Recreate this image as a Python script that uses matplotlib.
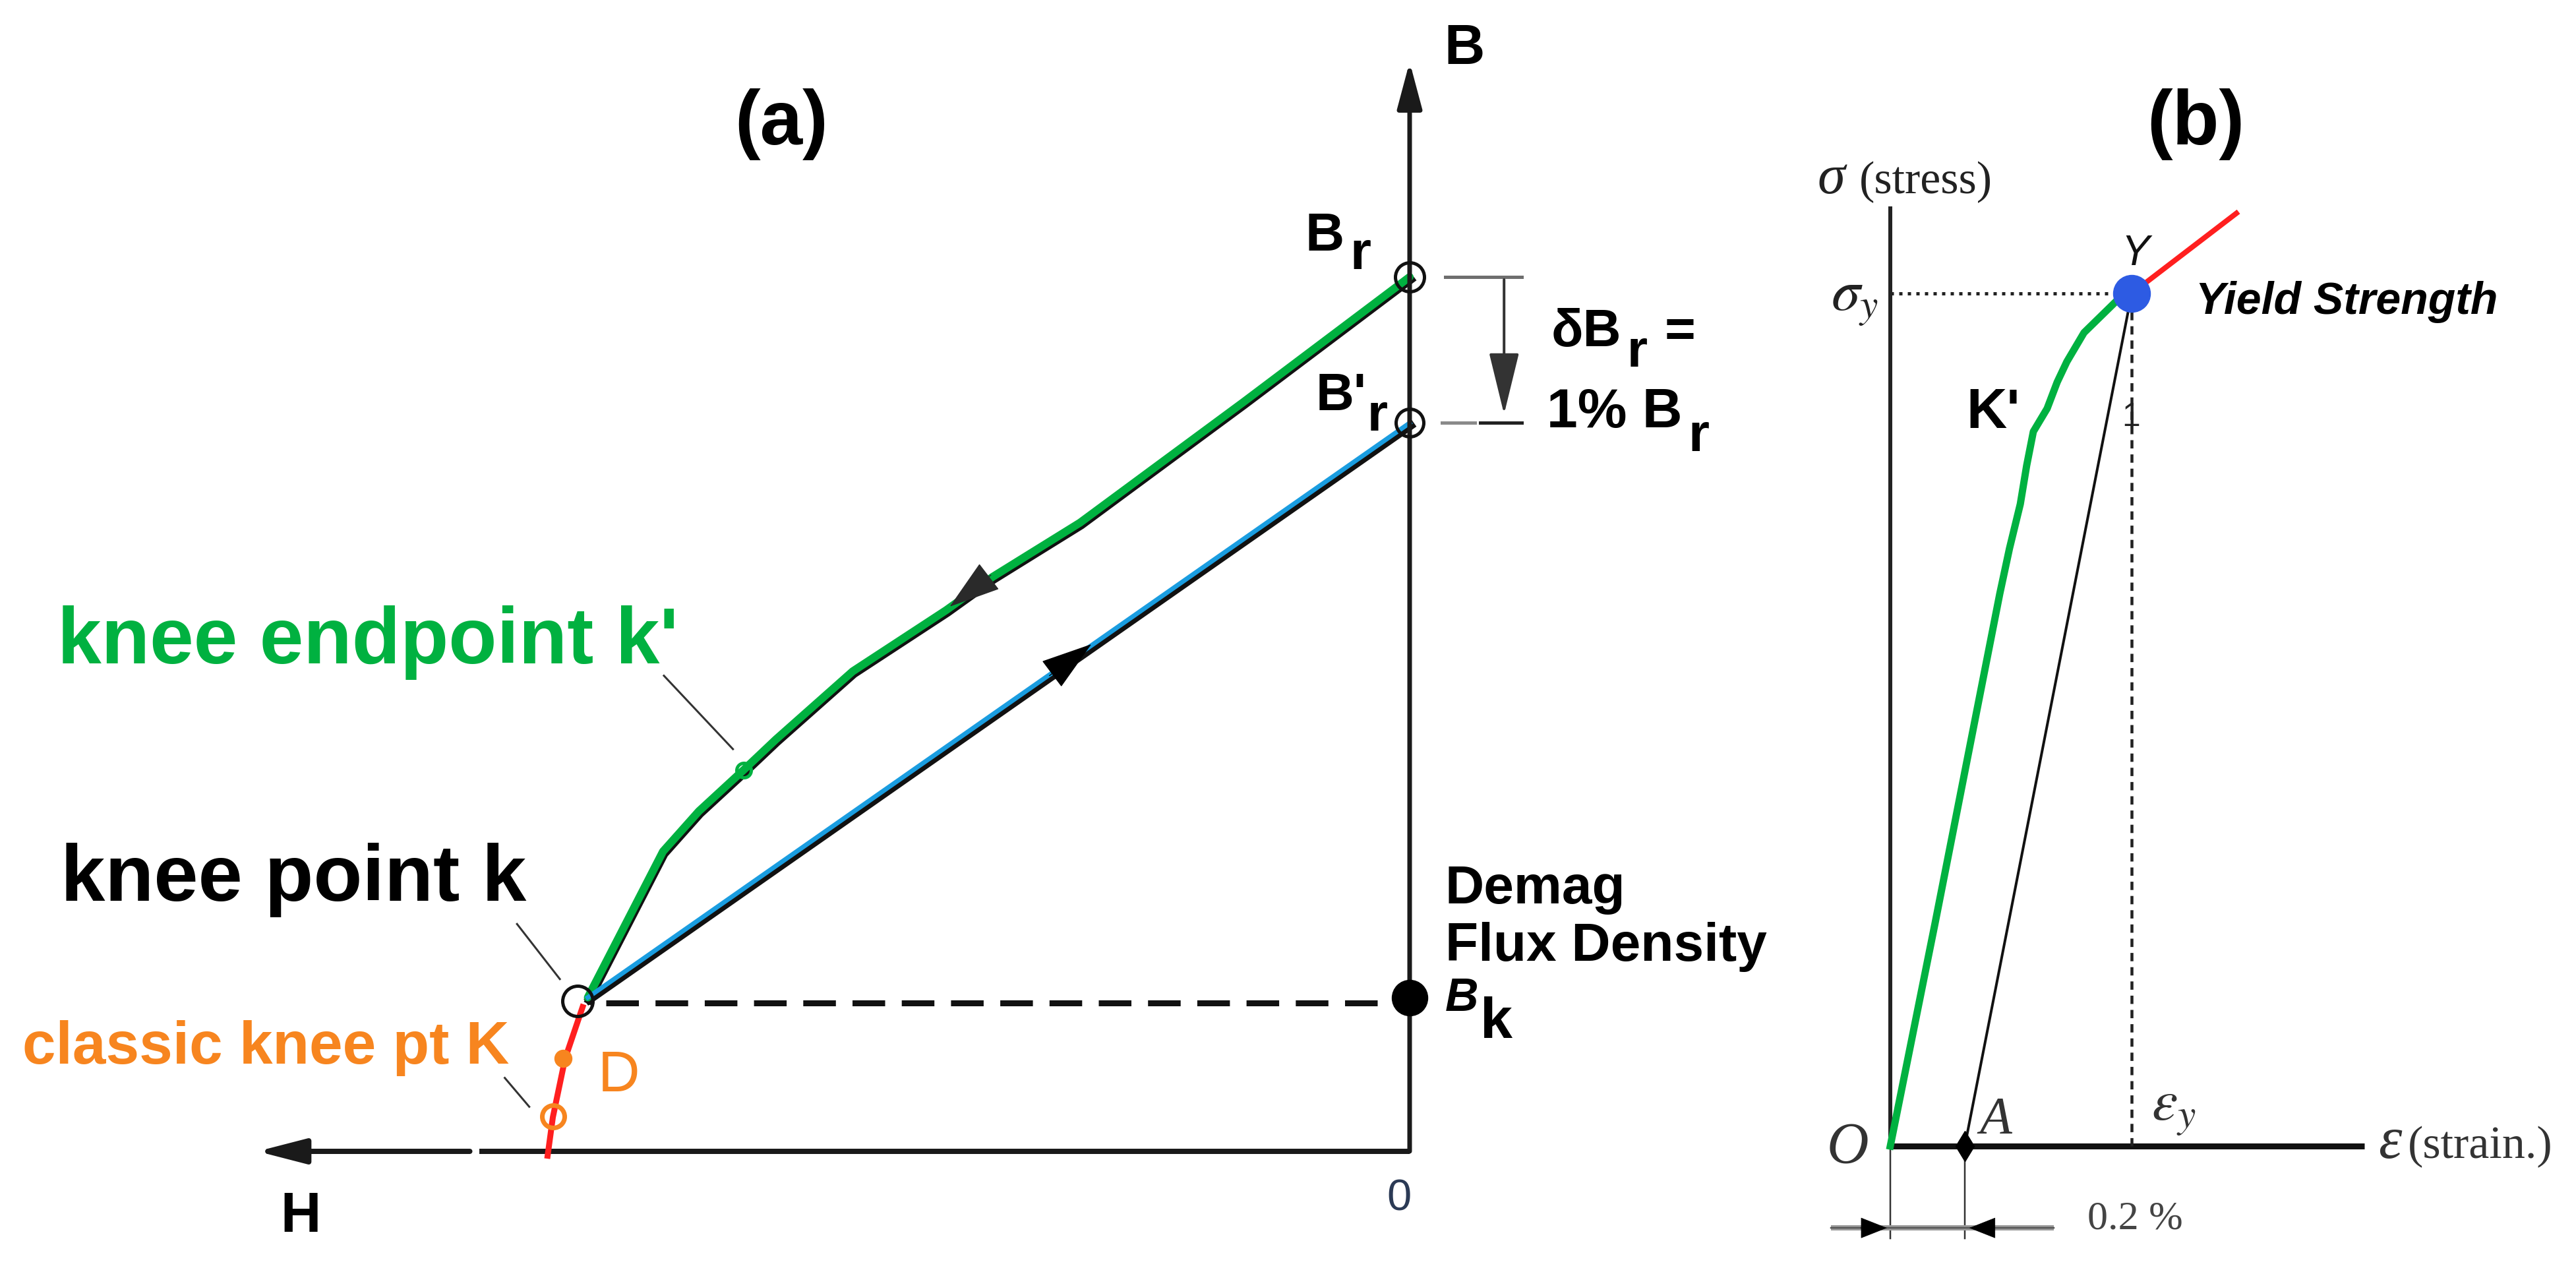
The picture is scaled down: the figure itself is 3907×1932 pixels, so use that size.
import numpy as np
import matplotlib
matplotlib.use('Agg')
import matplotlib.pyplot as plt
from matplotlib.transforms import Affine2D, offset_copy

# ---- panel (a): demagnetisation curve, H and B in units of B_r (as drawn) ----
demag_H = [0.0, -0.190, -0.377, -0.477, -0.530, -0.637, -0.725, -0.762, -0.813, -0.854, -0.940]
demag_B = [1.0, 0.857, 0.719, 0.657, 0.619, 0.549, 0.471, 0.436, 0.389, 0.343, 0.176]
recoil_H = [-0.940, 0.0]
recoil_B = [0.176, 0.833]
below_knee_H = [-0.946, -0.966, -0.980, -0.986]
below_knee_B = [0.165, 0.106, 0.039, -0.005]

Br = 1.0
Br_prime = 0.833
knee_k = (-0.952, 0.172)
knee_kprime = (-0.762, 0.436)
point_D = (-0.968, 0.106)
classic_K = (-0.980, 0.040)
Bk = 0.176
Bk_dash = 0.170

# ---- panel (b): stress-strain, strain in %, stress in units of sigma_y ----
green_eps = [0.0, 0.120, 0.294, 0.320, 0.349, 0.366, 0.384, 0.421, 0.448, 0.474, 0.520, 0.602]
green_sig = [0.0, 0.261, 0.648, 0.701, 0.753, 0.798, 0.838, 0.865, 0.896, 0.920, 0.954, 0.989]
plastic_eps = [0.648, 0.929]
plastic_sig = [1.0, 1.094]
offset_eps = 0.2
eps_y = 0.648
sig_y = 1.0

# ---- canvas ----
W, H = 3907, 1932
DPI = 100
PT = 72 / DPI
plt.rcParams['font.family'] = ['Liberation Sans', 'DejaVu Sans']
plt.rcParams['mathtext.fontset'] = 'stix'

fig = plt.figure(figsize=(W / DPI, H / DPI), dpi=DPI)
pix = Affine2D().scale(1 / W, -1 / H).translate(0, 1) + fig.transFigure


def label(x, y, s, size, **kw):
    fig.text(x, y, s, fontsize=size * PT, transform=pix, va='baseline', **kw)


def arrow(ax, tip, base, hl, hw, color, lw=1.0):
    ax.annotate('', xy=tip, xytext=base,
                arrowprops=dict(arrowstyle='-|>,head_length=%g,head_width=%g' % (hl * PT, hw * PT),
                                mutation_scale=1, lw=lw, color=color,
                                shrinkA=0, shrinkB=0), zorder=5)


GREEN = '#00b140'
BLUE = '#1a9de0'
RED = '#ff1f1f'
ORANGE = '#f7851f'

# panel (a) axes: origin at pixel (2138, 1746), 1326 px per unit
ax_a = fig.add_axes([0, 0, 1, 1])
ax0x, ax0y, sa = 2138, 1746, 1326
ax_a.set_xlim(-ax0x / sa, (W - ax0x) / sa)
ax_a.set_ylim((ax0y - H) / sa, ax0y / sa)
ax_a.axis('off')

H_tip, B_tip = -1.318, 1.246
gap = (-1.075, -1.064)
arrow(ax_a, (0, B_tip), (0, 0), 60, 16, '#1a1a1a', lw=7 * PT)
ax_a.plot([gap[1], 0], [0, 0], color='#1a1a1a', lw=8 * PT, solid_capstyle='butt')
arrow(ax_a, (H_tip, 0), (gap[0], 0), 62, 16, '#1a1a1a', lw=8 * PT)

ax_a.plot([-0.919, 0], [Bk_dash, Bk_dash], color='#111', lw=9 * PT, dashes=(5.5, 2.8))

# delta B_r bracket
ax_a.plot([0.041, 0.128], [Br, Br], color='#6e6e6e', lw=5 * PT)
ax_a.plot([0.037, 0.075], [Br_prime, Br_prime], color='#8a8a8a', lw=5 * PT)
ax_a.plot([0.081, 0.128], [Br_prime, Br_prime], color='#222', lw=5 * PT)
arrow(ax_a, (0.108, 0.843), (0.108, 0.997), 82, 20, '#333', lw=4 * PT)

# leader lines
for (x0, y0), (x1, y1) in [((-0.853, 0.544), (-0.774, 0.460)),
                           ((-1.021, 0.260), (-0.972, 0.197)),
                           ((-1.035, 0.084), (-1.007, 0.051))]:
    ax_a.plot([x0, x1], [y0, y1], color='#333', lw=3 * PT)

shadow = offset_copy(ax_a.transData, fig=fig, x=2, y=-4, units='dots')
ax_a.plot(demag_H, demag_B, color='#111', lw=12 * PT, transform=shadow, zorder=3)
ax_a.plot(demag_H, demag_B, color=GREEN, lw=12 * PT, zorder=4, solid_capstyle='round')
ax_a.plot(recoil_H, recoil_B, color='#111', lw=12 * PT, transform=shadow, zorder=3)
ax_a.plot(recoil_H, recoil_B, color=BLUE, lw=7 * PT, zorder=4)
ax_a.plot(below_knee_H, below_knee_B, color=RED, lw=9 * PT, zorder=4)

arrow(ax_a, (-0.526, 0.623), (-0.479, 0.659), 72, 23, '#2a2a2a')
arrow(ax_a, (-0.364, 0.580), (-0.412, 0.544), 72, 23, '#000')

ring = dict(mfc='none', mec='#111', mew=5 * PT, zorder=6)
ax_a.plot(0, Br, 'o', ms=44 * PT, **ring)
ax_a.plot(0, Br_prime, 'o', ms=42 * PT, **ring)
ax_a.plot(*knee_k, 'o', ms=46 * PT, **ring)
ax_a.plot(*knee_kprime, 'o', ms=22 * PT, mfc='none', mec=GREEN, mew=5 * PT, zorder=6)
ax_a.plot(*point_D, 'o', ms=26 * PT, color=ORANGE, zorder=6)
ax_a.plot(*classic_K, 'o', ms=34 * PT, mfc='none', mec=ORANGE, mew=7 * PT, zorder=6)
ax_a.plot(0, Bk, 'o', ms=54 * PT, color='#000', zorder=6)

# panel (b) axes: origin at pixel (2867, 1738); 565 px per % strain, 1293 px per sigma_y
ax_b = fig.add_axes([0, 0, 1, 1])
bx0, by0, sbx, sby = 2867, 1738, 565, 1293
ax_b.set_xlim(-bx0 / sbx, (W - bx0) / sbx)
ax_b.set_ylim((by0 - H) / sby, by0 / sby)
ax_b.axis('off')
ax_b.patch.set_visible(False)

ax_b.plot([0, 0], [0, 1.100], color='#222', lw=6 * PT)
ax_b.plot([0, 1.273], [0, 0], color='#111', lw=9 * PT, solid_capstyle='butt')
ax_b.plot([0, 0], [-0.004, -0.108], color='#333', lw=2.5 * PT)
ax_b.plot([offset_eps, offset_eps], [-0.004, -0.108], color='#333', lw=2.5 * PT)
ax_b.plot([-0.159, 0.439], [-0.096, -0.096], color='#9a9a9a', lw=8 * PT, solid_capstyle='butt')
ax_b.plot([-0.159, 0.439], [-0.096, -0.096], color='#555', lw=2.5 * PT)
arrow(ax_b, (-0.009, -0.096), (-0.08, -0.096), 38, 15, '#000', lw=0.5)
arrow(ax_b, (0.212, -0.096), (0.274, -0.096), 38, 15, '#000', lw=0.5)

ax_b.plot([0, eps_y], [sig_y, sig_y], color='#222', lw=5 * PT, linestyle=(0, (1.0, 1.6)))
ax_b.plot([eps_y, eps_y], [0, sig_y], color='#222', lw=4.5 * PT, linestyle=(0, (2.8, 2.0)))
ax_b.plot([offset_eps, eps_y], [0, sig_y], color='#111', lw=4 * PT)
ax_b.plot(green_eps, green_sig, color=GREEN, lw=11 * PT, zorder=4)
ax_b.plot(plastic_eps, plastic_sig, color=RED, lw=8 * PT, zorder=3)
ax_b.plot(eps_y, sig_y, 'o', ms=56 * PT, color='#2d5be3', zorder=6)
ax_b.plot(offset_eps, 0, marker='d', ms=32 * PT, color='#000', zorder=6)

# ---- text, panel (a) ----
label(1185, 219, '(a)', 116, ha='center', weight='bold')
label(2190, 97, 'B', 85, weight='bold')
label(1980, 380, 'B', 82, weight='bold')
label(2047, 408, 'r', 82, weight='bold')
label(1996, 622, "B'", 80, weight='bold')
label(2074, 653, 'r', 80, weight='bold')
label(2353, 525, '\u03b4B', 80, weight='bold')
label(2468, 556, 'r', 80, weight='bold')
label(2525, 525, '=', 80, weight='bold')
label(2346, 648, '1% B', 84, weight='bold')
label(2560, 684, 'r', 82, weight='bold')
label(87, 1006, "knee endpoint k'", 120, weight='bold', color=GREEN)
label(92, 1366, 'knee point k', 121, weight='bold', color='#000')
label(34, 1613, 'classic knee pt K', 91, weight='bold', color=ORANGE)
label(907, 1655, 'D', 88, color=ORANGE)
label(425, 1868, 'H', 85, weight='bold')
label(2103, 1835, '0', 67, color='#2b3a55')
label(2192, 1370, 'Demag', 82, weight='bold')
label(2192, 1457, 'Flux Density', 82, weight='bold')
label(2192, 1533, 'B', 70, weight='bold', style='italic')
label(2245, 1574, 'k', 88, weight='bold')

# ---- text, panel (b) ----
label(3330, 219, '(b)', 116, ha='center', weight='bold')
label(2756, 293, '\u03c3', 85, family='Liberation Serif', style='italic', color='#222')
label(2820, 293, '(stress)', 70, family='Liberation Serif', color='#222')
label(2777, 471, r'$\sigma_y$', 88, color='#222')
label(3217, 402, 'Y', 64, color='#111', style='italic')
label(3330, 476, 'Yield Strength', 68, weight='bold', style='italic')
label(2982, 649, "K'", 85, weight='bold')
label(3218, 646, '1', 50, color='#222')
label(2771, 1763, 'O', 88, family='Liberation Serif', style='italic', color='#333')
label(3002, 1719, 'A', 80, family='Liberation Serif', style='italic', color='#333')
label(3263, 1699, r'$\varepsilon_y$', 88, color='#333')
label(3607, 1756, '\u03b5', 90, family='Liberation Serif', style='italic', color='#333')
label(3652, 1756, '(strain.)', 70, family='Liberation Serif', color='#333')
label(3166, 1863, '0.2 %', 62, family='Liberation Serif', color='#444')

fig.savefig('out.png', dpi=DPI, facecolor='white')
